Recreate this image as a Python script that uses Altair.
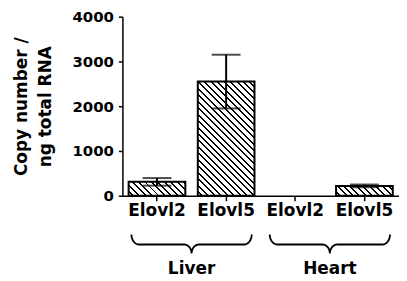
import math
import altair as alt
import pandas as pd

# ---- data ----
tissues = ["Liver", "Liver", "Heart", "Heart"]
genes = ["Elovl2", "Elovl5", "Elovl2", "Elovl5"]
means = [310, 2550, 0, 220]
errs = [85, 600, 0, 30]
groups = ["Liver", "Heart"]
y_ticks = [0, 1000, 2000, 3000, 4000]
y_title = ["Copy number /", "ng total RNA"]

# ---- layout / style ----
W, H = 278, 180
YMAX = 4000
PAD_INNER = 0.18
FONT = "DejaVu Sans"

keys = [f"{t}|{g}" for t, g in zip(tissues, genes)]
df = pd.DataFrame({"key": keys, "tissue": tissues, "gene": genes,
                   "mean": means, "err": errs})
df["lo"] = df["mean"] - df["err"]
df["hi"] = df["mean"] + df["err"]

step = W / len(keys)
bar_w = step * (1 - PAD_INNER)


def hatch(w, h, period=6.5, line=2.0):
    """Diagonal '\\' stripes as a hard-stop linear gradient in bbox units."""
    total = w + h
    k = total / (w * w + h * h)
    stops = [{"offset": 0, "color": "white"}]
    pos = period / 2
    while pos < total:
        a = pos / total
        b = min((pos + line) / total, 1)
        stops += [{"offset": a, "color": "white"}, {"offset": a, "color": "black"},
                  {"offset": b, "color": "black"}, {"offset": b, "color": "white"}]
        pos += period
    stops.append({"offset": 1, "color": "white"})
    return {"gradient": "linear", "x1": 0, "y1": 1,
            "x2": w * k, "y2": 1 - h * k, "stops": stops}


x_enc = alt.X("key:N",
              scale=alt.Scale(domain=keys, paddingInner=PAD_INNER,
                              paddingOuter=PAD_INNER / 2),
              axis=alt.Axis(title=None, labelExpr="split(datum.label, '|')[1]",
                            labelAngle=0, labelFontSize=17, labelPadding=2,
                            tickSize=5, domainWidth=1.5, tickWidth=1.5))
y_scale = alt.Scale(domain=[0, YMAX], nice=False)
y_enc = alt.Y("mean:Q", scale=y_scale,
              axis=alt.Axis(values=y_ticks, format="d", title=y_title,
                            titleFontSize=17, titleLineHeight=24,
                            titlePadding=18,
                            labelFontSize=15, labelPadding=5, tickSize=4,
                            domainWidth=1.5, tickWidth=1.5))

base = alt.Chart(df)
layers = []
for i, k in enumerate(keys):
    if means[i] <= 0:
        continue
    h = means[i] / YMAX * H
    layers.append(
        base.transform_filter(alt.datum.key == k)
        .mark_bar(fill=hatch(bar_w, h), stroke="black", strokeWidth=2)
        .encode(x=x_enc, y=y_enc)
    )

err_rule = base.transform_filter(alt.datum.err > 0).mark_rule(
    color="black", strokeWidth=2).encode(
    x=x_enc, y=alt.Y("lo:Q", scale=y_scale), y2="hi:Q")
caps = base.transform_filter(alt.datum.err > 0).transform_fold(
    ["lo", "hi"], as_=["end", "val"]).mark_tick(
    color="black", size=29, thickness=2).encode(
    x=x_enc, y=alt.Y("val:Q", scale=y_scale))

main = alt.layer(*layers, err_rule, caps)

# ---- group braces below the axis (band units on x, px from plot top on y) ----
BR_TOP, BR_MID, BR_TIP = 219, 229, 238
LABEL_Y = 254
RX = 0.11
n = 8
rows = []
for gi, g in enumerate(groups):
    x0 = gi * 2 + 0.13
    x1 = gi * 2 + 1.87
    xc = gi * 2 + 1.0
    pts = []
    for j in range(n + 1):  # left curl
        a = math.pi / 2 * j / n
        pts.append((x0 + RX - RX * math.cos(a), BR_TOP + (BR_MID - BR_TOP) * math.sin(a)))
    for j in range(n + 1):  # into tip
        a = math.pi / 2 * j / n
        pts.append((xc - RX + RX * math.sin(a), BR_TIP - (BR_TIP - BR_MID) * math.cos(a)))
    for j in range(n + 1):  # out of tip
        a = math.pi / 2 * j / n
        pts.append((xc + RX - RX * math.cos(a), BR_TIP - (BR_TIP - BR_MID) * math.sin(a)))
    for j in range(n + 1):  # right curl
        a = math.pi / 2 * j / n
        pts.append((x1 - RX + RX * math.sin(a), BR_MID - (BR_MID - BR_TOP) * (1 - math.cos(a))))
    for idx, (px, py) in enumerate(pts):
        rows.append({"group": g, "i": idx, "bx": px, "by": py})
brace_df = pd.DataFrame(rows)
label_df = pd.DataFrame({"group": groups, "bx": [1.0, 3.0], "by": [LABEL_Y] * 2})

bx_scale = alt.Scale(domain=[0, len(keys)], nice=False, zero=False)
by_scale = alt.Scale(domain=[0, H], reverse=True, nice=False, zero=False)

brace = alt.Chart(brace_df).mark_line(color="black", strokeWidth=1.8).encode(
    x=alt.X("bx:Q", scale=bx_scale, axis=None),
    y=alt.Y("by:Q", scale=by_scale, axis=None),
    detail="group:N", order="i:Q")
labels = alt.Chart(label_df).mark_text(
    font=FONT, fontSize=17, fontWeight="bold", color="black",
    baseline="middle").encode(
    x=alt.X("bx:Q", scale=bx_scale, axis=None),
    y=alt.Y("by:Q", scale=by_scale, axis=None),
    text="group:N")
annot = alt.layer(brace, labels)

chart = alt.layer(main, annot).resolve_scale(
    x="independent", y="independent").properties(
    width=W, height=H,
    autosize=alt.AutoSizeParams(type="none"),
    padding={"left": 115, "top": 8, "right": 0, "bottom": 84},
).configure_view(stroke=None).configure_axis(
    grid=False, domainColor="black", tickColor="black", labelColor="black",
    titleColor="black", labelFont=FONT, titleFont=FONT,
    labelFontWeight="bold", titleFontWeight="bold")

chart.save("out.html", embed_options={"renderer": "svg", "actions": False})
